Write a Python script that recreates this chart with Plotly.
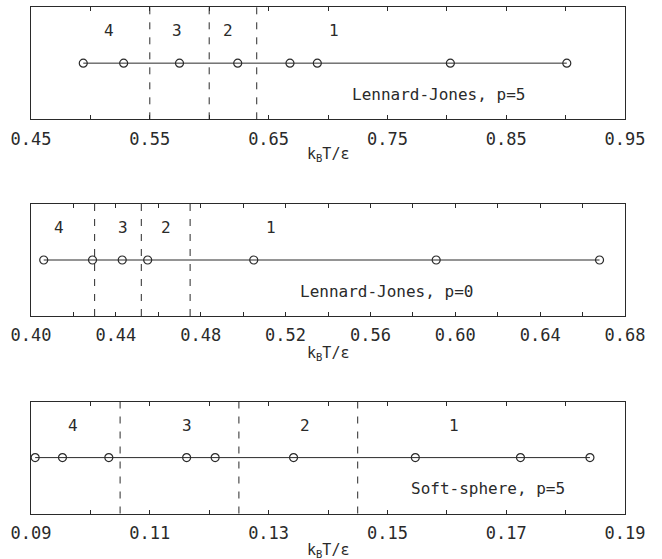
import plotly.graph_objects as go

# ---- data ----
lj5_T = [0.494, 0.528, 0.575, 0.624, 0.668, 0.691, 0.803, 0.901]
lj5_bounds = [0.55, 0.60, 0.64]
lj5_region_x = [0.516, 0.573, 0.616, 0.705]
lj5_ticks = [0.45, 0.55, 0.65, 0.75, 0.85, 0.95]
lj5_ticktext = ["0.45", "0.55", "0.65", "0.75", "0.85", "0.95"]

lj0_T = [0.406, 0.429, 0.443, 0.455, 0.505, 0.591, 0.668]
lj0_bounds = [0.430, 0.452, 0.475]
lj0_region_x = [0.413, 0.4435, 0.4634, 0.513]
lj0_ticks = [0.40, 0.44, 0.48, 0.52, 0.56, 0.60, 0.64, 0.68]
lj0_ticktext = ["0.40", "0.44", "0.48", "0.52", "0.56", "0.60", "0.64", "0.68"]

ss5_T = [0.0907, 0.0953, 0.1031, 0.1162, 0.1210, 0.1342, 0.1547, 0.1724, 0.1841]
ss5_bounds = [0.105, 0.125, 0.145]
ss5_region_x = [0.0971, 0.1162, 0.1362, 0.1612]
ss5_ticks = [0.09, 0.11, 0.13, 0.15, 0.17, 0.19]
ss5_ticktext = ["0.09", "0.11", "0.13", "0.15", "0.17", "0.19"]

region_labels = ["4", "3", "2", "1"]
panel_names = ["Lennard-Jones, p=5", "Lennard-Jones, p=0", "Soft-sphere, p=5"]
name_x = [0.793, 0.5676, 0.167]

W, H = 662, 559
FONT = "DejaVu Sans Mono"
INK = "#2a2a2a"

panels = [
    dict(T=lj5_T, bounds=lj5_bounds, rx=lj5_region_x, ticks=lj5_ticks, tt=lj5_ticktext,
         rng=[0.45, 0.95], minor=0.05, top=7, bot=119.3),
    dict(T=lj0_T, bounds=lj0_bounds, rx=lj0_region_x, ticks=lj0_ticks, tt=lj0_ticktext,
         rng=[0.40, 0.68], minor=0.02, top=204, bot=316),
    dict(T=ss5_T, bounds=ss5_bounds, rx=ss5_region_x, ticks=ss5_ticks, tt=ss5_ticktext,
         rng=[0.09, 0.19], minor=0.01, top=401.7, bot=513.5),
]

fig = go.Figure()
xdom = [31 / W, 625 / W]
annotations = []
shapes = []
layout_axes = {}

for i, p in enumerate(panels):
    n = i + 1
    xa = "x" if n == 1 else f"x{n}"
    ya = "y" if n == 1 else f"y{n}"
    fig.add_trace(go.Scatter(
        x=p["T"], y=[0.5] * len(p["T"]), xaxis=xa, yaxis=ya,
        mode="lines+markers",
        line=dict(color=INK, width=1),
        marker=dict(symbol="circle-open", size=8, color=INK, line=dict(width=1.2)),
        cliponaxis=False, showlegend=False, hoverinfo="x",
    ))
    ydom = [1 - p["bot"] / H, 1 - p["top"] / H]
    xkey = "xaxis" if n == 1 else f"xaxis{n}"
    ykey = "yaxis" if n == 1 else f"yaxis{n}"
    layout_axes[xkey] = dict(
        domain=xdom, anchor=ya, range=p["rng"], automargin=False,
        showline=True, linecolor=INK, linewidth=1, mirror="ticks",
        showgrid=False, zeroline=False,
        tickmode="array", tickvals=p["ticks"], ticktext=p["tt"],
        ticks="inside", ticklen=4, tickcolor=INK, tickwidth=1,
        minor=dict(dtick=p["minor"], tick0=p["rng"][0], ticks="inside", ticklen=4,
                   tickcolor=INK, showgrid=False),
        tickfont=dict(family=FONT, size=17, color=INK),
        ticklabelstandoff=4,
    )
    layout_axes[ykey] = dict(
        domain=ydom, anchor=xa, range=[0, 1], automargin=False,
        showline=True, linecolor=INK, linewidth=1, mirror=True,
        showgrid=False, zeroline=False, showticklabels=False, ticks="",
    )
    for b in p["bounds"]:
        shapes.append(dict(type="line", xref=xa, yref=f"{ya} domain",
                           x0=b, x1=b, y0=0, y1=1,
                           line=dict(color=INK, width=1, dash="7px,8px")))
    for lab, lx in zip(region_labels, p["rx"]):
        annotations.append(dict(text=lab, x=lx, y=0.79, xref=xa, yref=f"{ya} domain",
                                showarrow=False, font=dict(family=FONT, size=16, color=INK),
                                xanchor="center", yanchor="middle"))
    annotations.append(dict(text=panel_names[i], x=name_x[i], y=0.22, xref=xa,
                            yref=f"{ya} domain", showarrow=False,
                            font=dict(family=FONT, size=16, color=INK),
                            xanchor="center", yanchor="middle"))

title_y = [155, 353, 550]
for ty in title_y:
    annotations.append(dict(text="k<sub>B</sub>T/ε", x=(xdom[0] + xdom[1]) / 2, y=1 - ty / H,
                            xref="paper", yref="paper", showarrow=False,
                            font=dict(family=FONT, size=15, color=INK),
                            xanchor="center", yanchor="middle"))

fig.update_layout(
    width=W, height=H, margin=dict(l=0, r=0, t=0, b=0),
    paper_bgcolor="white", plot_bgcolor="white",
    shapes=shapes, annotations=annotations, showlegend=False,
    **layout_axes,
)

fig.write_html("out.html")
